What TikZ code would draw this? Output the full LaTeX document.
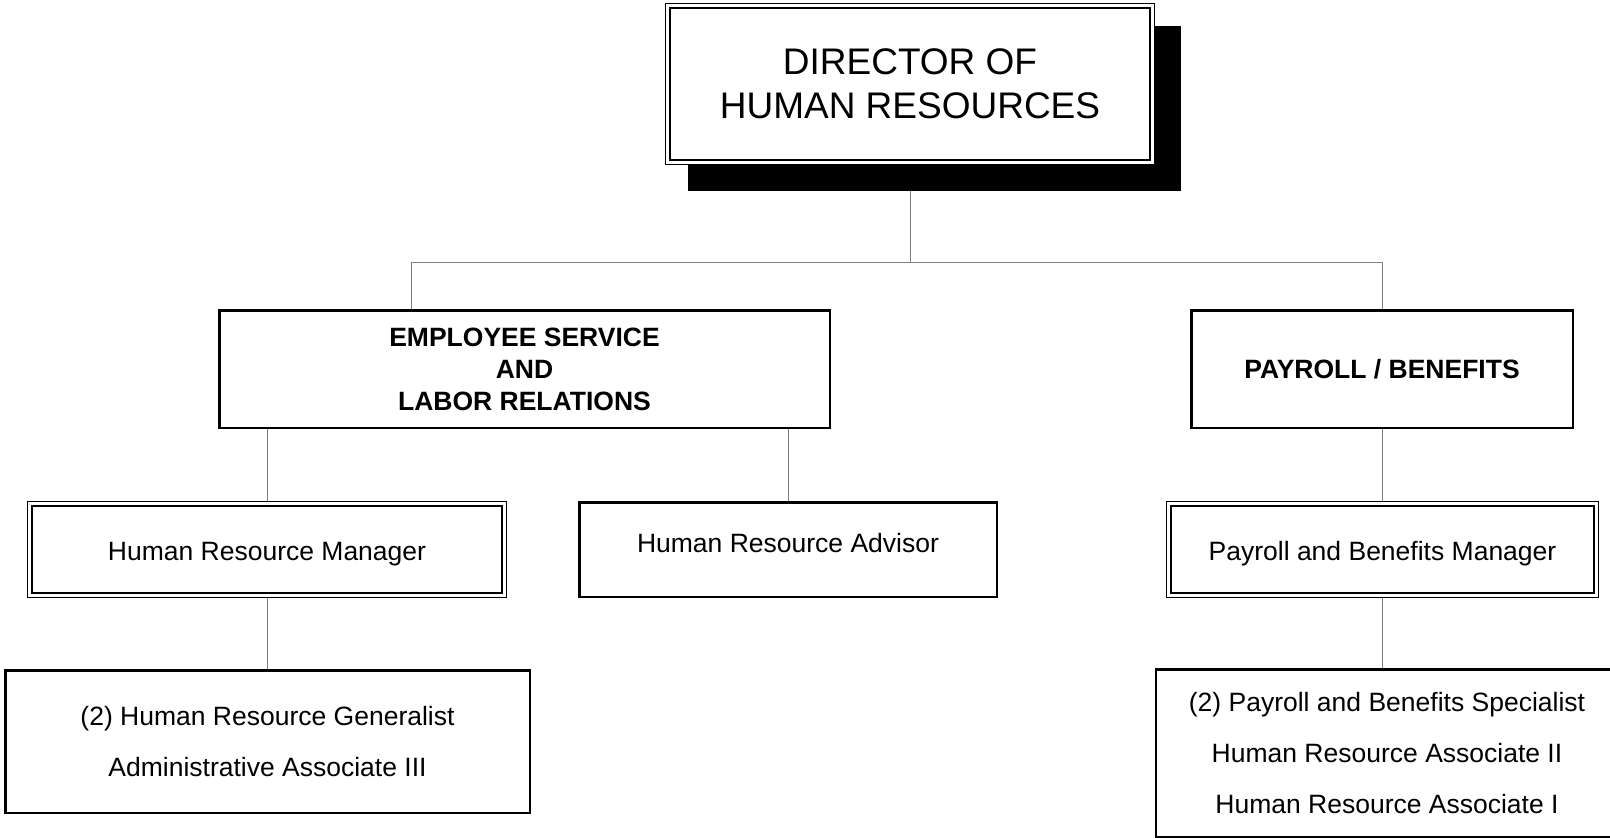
\documentclass[tikz,border=0pt]{standalone}
\usepackage{fontspec}
\setmainfont{Liberation Sans}
\usetikzlibrary{backgrounds}
\tikzset{
    single-box/.style = {draw=black, fill=white, line width=2.5pt, rectangle, inner sep=0pt, align=center, font=\fontsize{26.5}{32}\selectfont},
    double-box/.style = {draw=black, fill=white, line width=1.4pt, double=white, double distance=3pt, rectangle, inner sep=0pt, align=center, font=\fontsize{26.5}{32}\selectfont},
    head-font/.style = {font=\bfseries\fontsize{26.5}{32}\selectfont},
    list-font/.style = {font=\fontsize{26.5}{51}\selectfont},
    link/.style = {draw=gray, line width=1pt},
}
\begin{document}
\begin{tikzpicture}[x=1pt, y=-1pt]
\useasboundingbox (0,0) rectangle (1610,838);
\node[double-box, minimum width=484.2pt, minimum height=156.2pt, font=\fontsize{37}{44}\selectfont] (director) at (910,84) {DIRECTOR OF\\HUMAN RESOURCES};
\node[single-box, head-font, minimum width=610.5pt, minimum height=117.5pt] (service) at (524.5,369) {EMPLOYEE SERVICE\\AND\\LABOR RELATIONS};
\node[single-box, head-font, minimum width=381.5pt, minimum height=117.5pt] (payroll) at (1382,369) {PAYROLL / BENEFITS};
\node[double-box, minimum width=474.2pt, minimum height=91.2pt, text height=27pt, text depth=6pt] (hrmanager) at (267,549.5) {Human Resource Manager};
\node[single-box, minimum width=417.5pt, minimum height=94.5pt, text depth=13pt] (advisor) at (788,549.5) {Human Resource Advisor};
\node[double-box, minimum width=427.2pt, minimum height=91.2pt, text height=27pt, text depth=6pt] (pbmanager) at (1382.5,549.5) {Payroll and Benefits Manager};
\node[single-box, list-font, minimum width=524.5pt, minimum height=142.5pt] (generalist) at (267.5,741.5) {(2) Human Resource Generalist\\Administrative Associate III};
\node[single-box, list-font, minimum width=462pt, minimum height=168pt] (specialist) at (1387,753.5) {(2) Payroll and Benefits Specialist\\Human Resource Associate II\\Human Resource Associate I};
\begin{scope}[on background layer]
\coordinate (hub) at (910,262);
\coordinate (split) at (411,262);
\draw[link] (director.south) -- (hub);
\draw[link] (split |- service.north) -- (split) -- (split -| payroll.north) -- (payroll.north);
\draw[link] (hrmanager.north) -- (hrmanager.north |- service.south);
\draw[link] (advisor.north) -- (advisor.north |- service.south);
\draw[link] (hrmanager.south) -- (hrmanager.south |- generalist.north);
\draw[link] (payroll.south) -- (payroll.south |- pbmanager.north);
\draw[link] (pbmanager.south) -- (pbmanager.south |- specialist.north);
\fill[black] ([shift={(21,21)}]director.north west) rectangle ([shift={(28,28)}]director.south east);
\end{scope}
\end{tikzpicture}
\end{document}
